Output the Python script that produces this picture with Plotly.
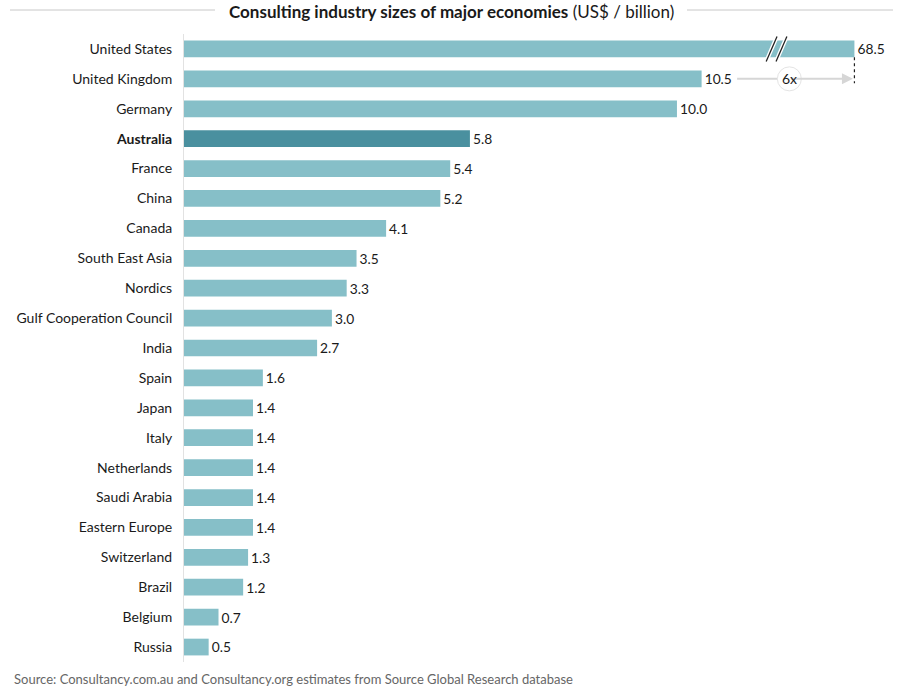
import plotly.graph_objects as go

countries = ["United States", "United Kingdom", "Germany", "Australia", "France", "China",
             "Canada", "South East Asia", "Nordics", "Gulf Cooperation Council", "India",
             "Spain", "Japan", "Italy", "Netherlands", "Saudi Arabia", "Eastern Europe",
             "Switzerland", "Brazil", "Belgium", "Russia"]
values = [68.5, 10.5, 10.0, 5.8, 5.4, 5.2, 4.1, 3.5, 3.3, 3.0, 2.7,
          1.6, 1.4, 1.4, 1.4, 1.4, 1.4, 1.3, 1.2, 0.7, 0.5]
highlight = "Australia"
axis_break_cap = 13.6   # visual cap for the truncated (broken) US bar
multiple_label = "6x"

FONT = "Lato"
TXT = "#1a1a1a"
BAR = "#86bfc8"
BAR_HL = "#4a909f"

W, H = 900, 692
L, R, T, B = 184, 16, 34, 30
PW, PH = W - L - R, H - T - B


def px(x):  # pixel x -> paper
    return (x - L) / PW


def py(y):  # pixel y -> paper
    return (H - B - y) / PH


shown = [min(v, axis_break_cap) for v in values]
colors = [BAR_HL if c == highlight else BAR for c in countries]
ticktext = [f"<b>{c}</b>" if c == highlight else c for c in countries]

fig = go.Figure()
fig.add_trace(go.Bar(
    y=countries, x=shown, orientation="h",
    marker=dict(color=colors, line=dict(width=0)),
    width=0.56,
    text=[f"{v:.1f}" for v in values], textposition="outside",
    textfont=dict(family=FONT, size=14, color=TXT),
    cliponaxis=False, hoverinfo="skip",
))

us_x = shown[0]
uk_x = values[1]

# axis break marks on the US bar
brk = 12.0
for dx in (-0.08, 0.12):
    fig.add_shape(type="line", xref="x", yref="y",
                  x0=brk + dx - 0.11, x1=brk + dx + 0.11, y0=0.42, y1=-0.42,
                  line=dict(color="white", width=4))
for dx in (-0.08, 0.12):
    fig.add_shape(type="line", xref="x", yref="y",
                  x0=brk + dx - 0.11, x1=brk + dx + 0.11, y0=0.42, y1=-0.42,
                  line=dict(color="#222222", width=1.3))

# dashed marker at the end of the US bar
fig.add_shape(type="line", xref="x", yref="y", x0=us_x, x1=us_x, y0=0.28, y1=1.15,
              line=dict(color="#222222", width=1.2, dash="dot"))

# arrow from UK to US: plain line part, circle, arrow part
circ_x = brk + 0.28
fig.add_shape(type="line", xref="x", yref="y", x0=uk_x + 0.72, x1=circ_x, y0=1, y1=1,
              line=dict(color="#d6d6d6", width=2))
fig.add_annotation(x=us_x - 0.03, y=1, ax=circ_x, ay=1, xref="x", yref="y",
                   axref="x", ayref="y", text="", showarrow=True,
                   arrowhead=2, arrowsize=1.1, arrowwidth=2, arrowcolor="#d6d6d6")
fig.add_shape(type="circle", xref="x", yref="y", xsizemode="pixel", ysizemode="pixel",
              xanchor=circ_x, yanchor=1, x0=-12, x1=12, y0=-12, y1=12,
              fillcolor="white", line=dict(color="#e4e4e4", width=1))
fig.add_annotation(x=circ_x, y=1, xref="x", yref="y", text=multiple_label,
                   showarrow=False, font=dict(family=FONT, size=14, color=TXT))

# title with side rules
fig.add_annotation(
    x=px(451), y=py(12), xref="paper", yref="paper", showarrow=False,
    xanchor="center", yanchor="middle",
    text="<b>Consulting industry sizes of major economies</b> (US$ / billion)",
    font=dict(family=FONT, size=17, color=TXT))
for x0, x1 in ((10, 215), (687, 893)):
    fig.add_shape(type="line", xref="paper", yref="paper",
                  x0=px(x0), x1=px(x1), y0=py(10), y1=py(10),
                  line=dict(color="#c8c8c8", width=1))

# source
fig.add_annotation(
    x=px(12), y=py(679), xref="paper", yref="paper",
    xanchor="left", yanchor="middle", showarrow=False,
    text="Source: Consultancy.com.au and Consultancy.org estimates from Source Global Research database",
    font=dict(family=FONT, size=13, color="#666666"))

fig.update_layout(
    width=W, height=H,
    margin=dict(l=L, r=R, t=T, b=B, autoexpand=False),
    plot_bgcolor="white", paper_bgcolor="white",
    showlegend=False,
    xaxis=dict(range=[0, 14.2], visible=False, fixedrange=True),
    yaxis=dict(categoryorder="array", categoryarray=countries, autorange=False,
               range=[20.5, -0.5], tickvals=countries, ticktext=ticktext,
               showgrid=False, showline=True, linecolor="#e2e2e2", linewidth=1,
               ticks="", ticklabelstandoff=8, automargin=False, fixedrange=True,
               tickfont=dict(family=FONT, size=14, color=TXT)),
    font=dict(family=FONT),
)

fig.write_html("out.html", config={"displayModeBar": False},
               post_script="document.body.style.margin='0';")
